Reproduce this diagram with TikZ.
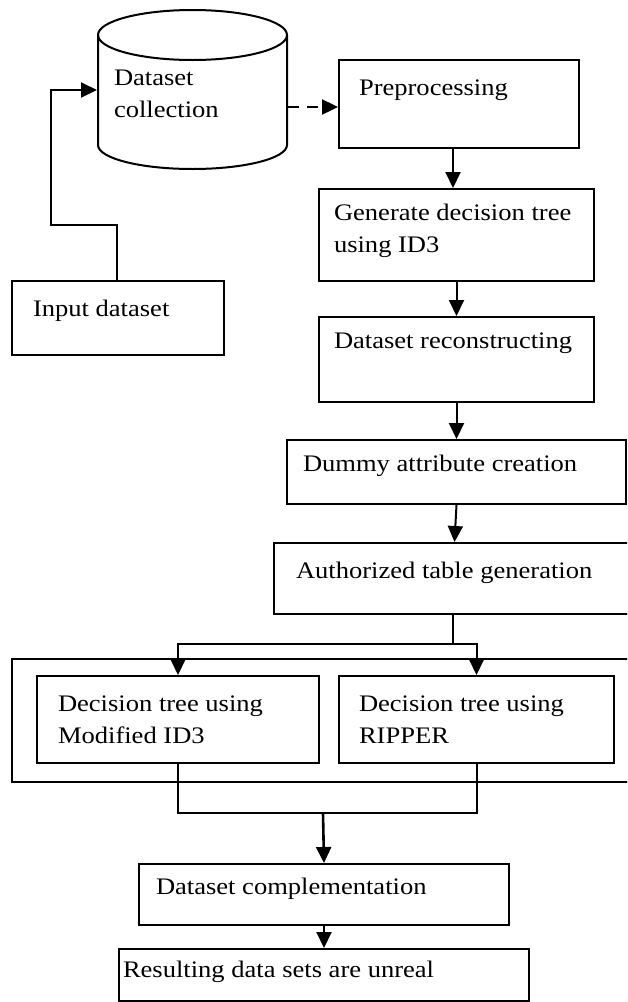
\documentclass[tikz,border=0pt]{standalone}
\usepackage{fontspec}
\setmainfont{Liberation Serif}[FakeStretch=1.12]
\usetikzlibrary{arrows.meta}
\begin{document}
\begin{tikzpicture}[
  x=1pt, y=-1pt,
  line width=2pt,
  font=\fontsize{23.7}{32}\selectfont,
  box/.style={draw, rectangle, inner sep=0pt, anchor=north west},
  txt/.style={inner sep=0pt, anchor=base west, align=left},
  arr/.style={-{Triangle[length=16pt,width=15pt]}},
]
\useasboundingbox (0,0) rectangle (627,1002);
\fill[white] (0,0) rectangle (627,1002);
\clip (0,0) rectangle (627,1002);

% database cylinder
\node[inner sep=0pt, minimum width=189pt, minimum height=110pt] (db) at (192.5,90) {};
\draw (98,35) -- (98,145) arc[start angle=180, end angle=0, x radius=94.5, y radius=24] -- (287,35);
\draw (192.5,35) ellipse [x radius=94.5, y radius=25];
% two-line labels are anchored at the baseline of their last line
\node[txt] (dbt) at (113,117) {Dataset\\collection};

% process boxes
\node[box, minimum width=212pt, minimum height=74pt] (inp) at (11,280) {};
\node[txt] (inpt) at (32,316) {Input dataset};

\node[box, minimum width=240pt, minimum height=88pt] (pre) at (338,59) {};
\node[txt] (pret) at (358,95) {Preprocessing};

\node[box, minimum width=275pt, minimum height=92pt] (gen) at (318,188) {};
\node[txt] (gent) at (333,252) {Generate decision tree\\using ID3};

\node[box, minimum width=275pt, minimum height=85pt] (rec) at (318,316) {};
\node[txt] (rect) at (333,348) {Dataset reconstructing};

\node[box, minimum width=339pt, minimum height=64pt] (dum) at (286,439) {};
\node[txt] (dumt) at (302,471) {Dummy attribute creation};

\node[box, minimum width=370pt, minimum height=71pt] (aut) at (273,542) {};
\node[txt] (autt) at (295,578) {Authorized table generation};

% group frame around the two classifiers
\node[box, minimum width=632pt, minimum height=123pt] (grp) at (11,658) {};

\node[box, minimum width=282pt, minimum height=87pt] (dl) at (36,675) {};
\node[txt] (dlt) at (57,743) {Decision tree using\\Modified ID3};

\node[box, minimum width=275pt, minimum height=87pt] (dr) at (338,675) {};
\node[txt] (drt) at (358,743) {Decision tree using\\RIPPER};

\node[box, minimum width=370pt, minimum height=61pt] (cmp) at (138,863) {};
\node[txt] (cmpt) at (155,894) {Dataset complementation};

\node[box, minimum width=410pt, minimum height=52pt] (res) at (118,948) {};
\node[txt] (rest) at (122,977) {Resulting data sets are unreal};

% junction points
\coordinate (split) at (453,644);
\coordinate (merge) at (323,813);

% connectors
\draw[arr] ([xshift=106pt]inp.north west) -- ++(0,-55) -- ++(-66,0) |- (db.west);
\draw[arr, line width=2.4pt, dash pattern=on 11pt off 8pt] ([yshift=-17pt]db.east) -- ([yshift=-17pt]db.east -| pre.west);
\draw[arr] ([xshift=-6pt]pre.south) -- ([xshift=-6pt]pre.south |- gen.north);
\draw[arr] (gen.south) -- (rec.north);
\draw[arr] (rec.south) -- (dum.north);
\draw[arr] (dum.south) -- ([xshift=-2pt]dum.south |- aut.north);
\draw (split |- aut.south) -- (split);
\draw[arr] (split) -| (dl.north);
\draw[arr] (split) -| (dr.north);
\draw (dl.south) |- (merge) -| (dr.south);
\draw[arr, line width=2.6pt] (merge) -- (cmp.north);
\draw[arr] (cmp.south) -- (res.north);
\end{tikzpicture}
\end{document}
